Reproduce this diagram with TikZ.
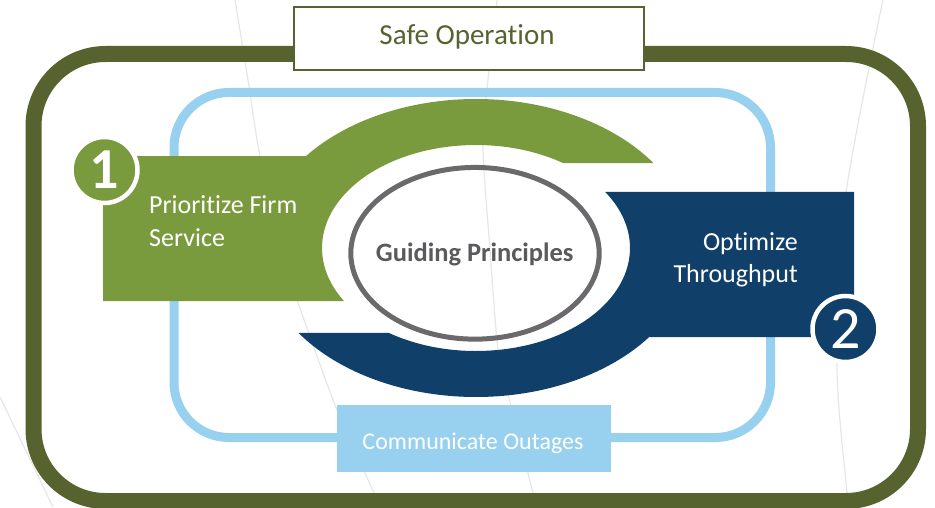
\documentclass[tikz,border=0pt]{standalone}
\usepackage{fontspec}
\setmainfont[Ligatures=NoCommon]{Carlito}
\usetikzlibrary{calc,shapes.geometric}
\definecolor{sgOlive}{HTML}{56632E}
\definecolor{sgGreen}{HTML}{7A9A3E}
\definecolor{sgBlue}{HTML}{10406A}
\definecolor{sgLight}{HTML}{98D0F0}
\definecolor{sgGrey}{HTML}{6B696C}
\definecolor{sgText}{HTML}{5A595C}
\definecolor{sgFaint}{HTML}{E6E6E6}
\tikzset{
  faint/.style={draw=sgFaint, line width=1.2},
  lbl/.style={text=white, inner sep=0, font=\fontsize{26}{28}\selectfont},
  badge/.style={circle, minimum size=66, inner sep=0, draw=white, line width=4.5, text=white, font=\fontsize{60}{60}\selectfont},
}
\begin{document}
\begin{tikzpicture}[x=1pt,y=1pt]
\useasboundingbox (0,0) rectangle (935,507);
\coordinate (C) at (476,259);
% faint background lines
\draw[faint] plot[smooth] coordinates {(235,507) (248,427) (260,350) (280,257) (297,207) (337,97) (375,12) (380,0)};
\draw[faint] plot[smooth] coordinates {(497,507) (488,427) (483,360) (490,257) (498,157) (507,117) (533,14) (537,0)};
\draw[faint] plot[smooth] coordinates {(883,507) (845,307) (837,140) (847,14) (848,0)};
\draw[faint] (0,110) -- (53,0);
% outer frame
\draw[sgOlive, line width=16, rounded corners=72] (33.5,453) rectangle (918,6);
% light blue frame
\draw[sgLight, line width=9, rounded corners=55] (174,414.5) rectangle (770.5,69.5);
% green shape
\fill[sgGreen] ($(C)+(141.87:216 and 149)$) arc[start angle=141.87, end angle=34.78, x radius=216, y radius=149]
  -- ($(C)+(55.61:154 and 103)$) arc[start angle=55.61, end angle=210.97, x radius=154, y radius=103]
  -- (103,206) -- (103,351) -- cycle;
% blue shape
\fill[sgBlue] ($(C)+(-36.68:216 and 149)$) arc[start angle=-36.68, end angle=-145.22, x radius=216, y radius=149]
  -- ($(C)+(-124.39:154 and 103)$) arc[start angle=-124.39, end angle=32.94, x radius=154, y radius=103]
  -- (854,315) -- (854,170) -- cycle;
% central ellipse
\node[ellipse, draw=sgGrey, line width=5, minimum width=248.4, minimum height=171.7, inner sep=0] (gp) at (475,253.7) {};
\node[anchor=base, text=sgText, inner sep=0, font=\fontsize{26.5}{28}\selectfont\bfseries] (gpt) at (474.7,245) {Guiding Principles};
% safe operation box
\node[draw=sgOlive, line width=2, fill=white, minimum width=350, minimum height=62.5, inner sep=0] (safe) at (469,468.25) {};
\node[anchor=base, text=sgOlive, inner sep=0, font=\fontsize{29}{30}\selectfont] (safet) at (467,462) {Safe Operation};
% communicate outages box
\node[fill=sgLight, minimum width=274, minimum height=67, inner sep=0] (comm) at (474,68.5) {};
\node[anchor=base, text=white, inner sep=0, font=\fontsize{24}{26}\selectfont] (commt) at (473,58) {Communicate Outages};
% labels
\node[lbl, anchor=base west] (p1) at (149,294) {Prioritize Firm};
\node[lbl, anchor=base west] (p2) at (149,261) {Service};
\node[lbl, anchor=base east] (o1) at (798,256) {Optimize};
\node[lbl, anchor=base east] (o2) at (798,225) {Throughput};
% badges
\node[badge, fill=sgGreen, font=\fontsize{58}{58}\selectfont\bfseries] (b1) at (104.5,337) {1};
\node[badge, fill=sgBlue] (b2) at (845.5,178) {2};
\end{tikzpicture}
\end{document}
